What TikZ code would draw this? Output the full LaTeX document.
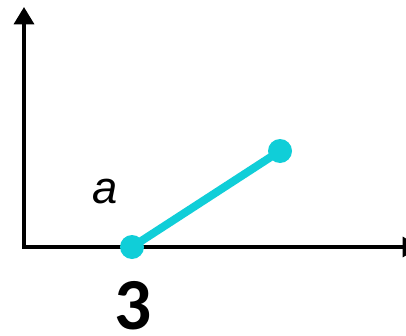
\documentclass[tikz,border=0pt]{standalone}
\usepackage{fontspec}
\usetikzlibrary{arrows.meta}
\newfontfamily\carlito{Carlito}
\newfontfamily\libsans{Liberation Sans}
\definecolor{segcyan}{RGB}{16,206,216}
\begin{document}
\begin{tikzpicture}[x=0.75pt,y=-0.75pt,
  axis/.style={line width=2.5pt,-{Triangle[width=15pt,length=13pt]}},
  seg/.style={line width=6pt,segcyan},
  enddot/.style={circle,fill=segcyan,inner sep=0pt,minimum size=18pt}]
\useasboundingbox (0,0) rectangle (406,335);
\fill[white] (0,0) rectangle (406,335);
\begin{scope}
\clip (0,0) rectangle (406,335);
\coordinate (O) at (24,247);
\coordinate (ytop) at (24,7);
\coordinate (xend) at (420,247);
\draw[axis] (O) -- (ytop);
\draw[axis] ([xshift=-1.25pt]O) -- (xend);
\end{scope}
\node[enddot] (p1) at (132,247) {};
\node[enddot] (p2) at (280,151) {};
\draw[seg] (p1.center) -- (p2.center);
\node[font=\libsans\itshape\fontsize{34}{34}\selectfont,inner sep=0pt] (la) at (105,192) {a};
\node[font=\carlito\bfseries\fontsize{55}{55}\selectfont,inner sep=0pt] (l3) at (133,306) {3};
\end{tikzpicture}
\end{document}
